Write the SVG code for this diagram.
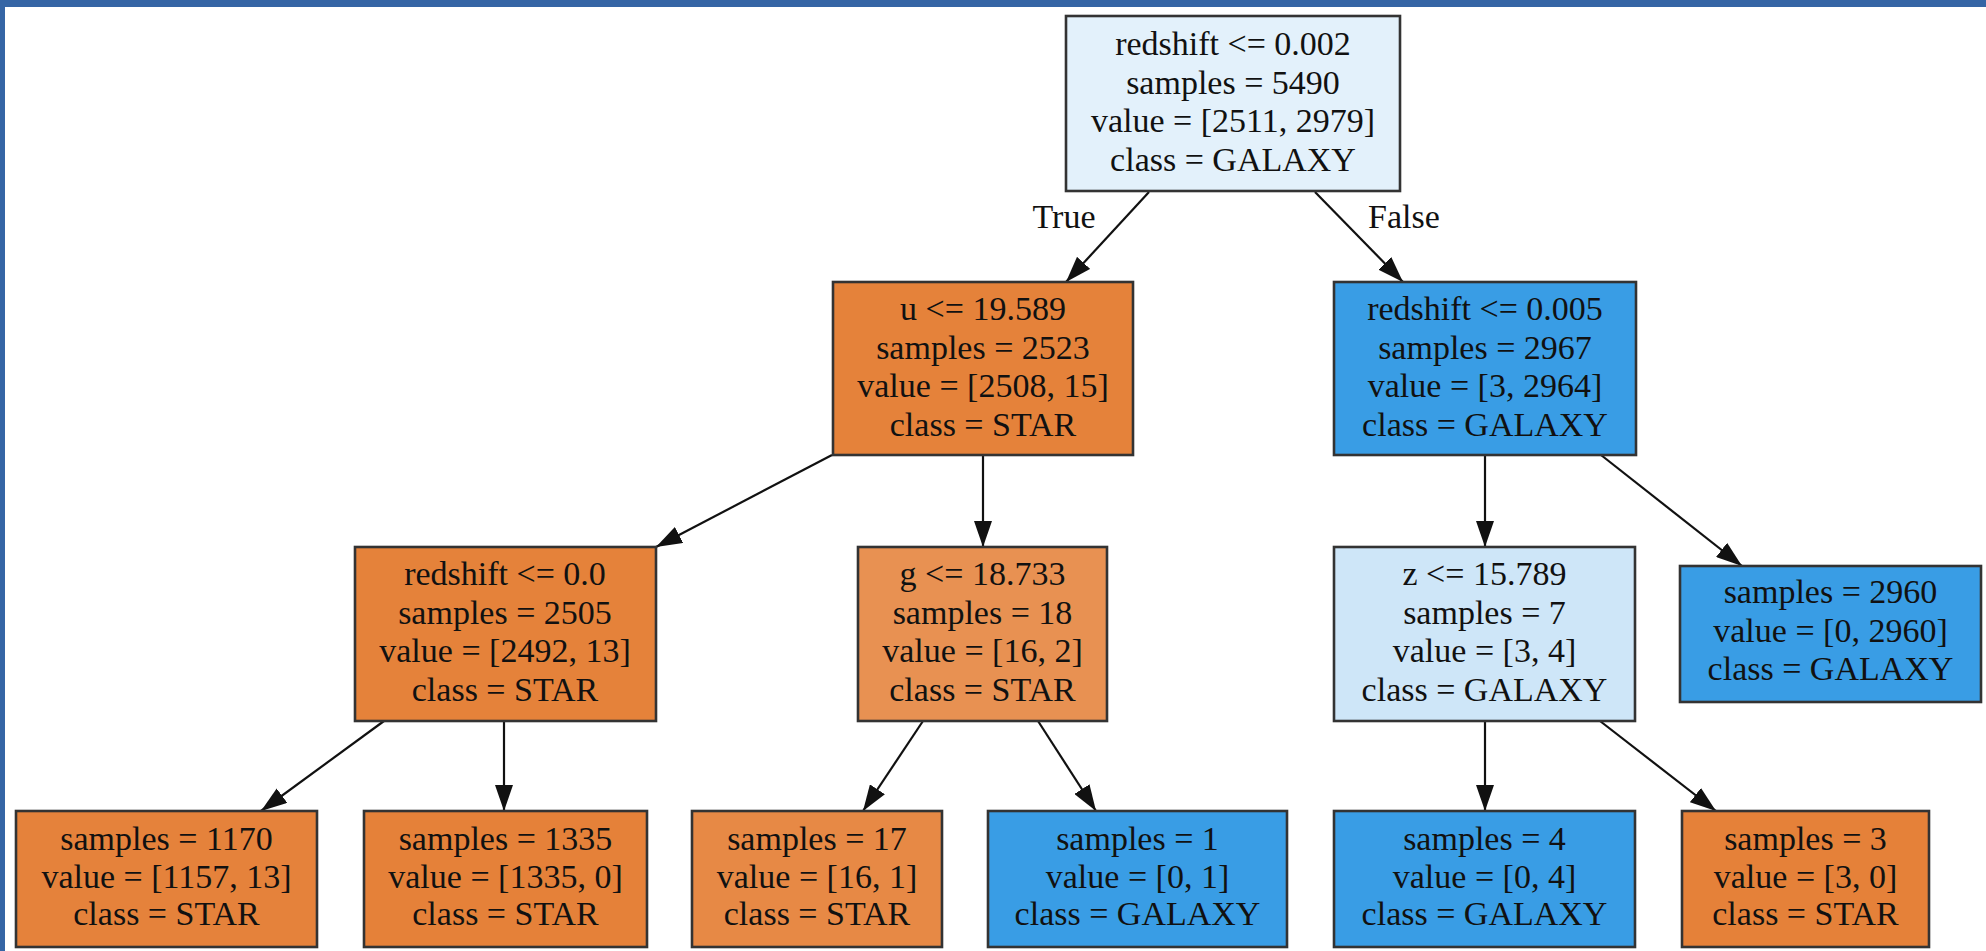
<svg xmlns="http://www.w3.org/2000/svg" width="1986" height="951" viewBox="0 0 1986 951">
<defs>
<style>
.box{stroke:#333;stroke-width:2.6}
.t{font-family:"Liberation Serif","Times New Roman",serif;font-size:34px;fill:#111;text-anchor:middle}
.e{stroke:#111;stroke-width:2.2;fill:none;marker-end:url(#ah)}
</style>
<marker id="ah" markerUnits="userSpaceOnUse" markerWidth="26" markerHeight="18" refX="26" refY="9" orient="auto">
<path d="M0,0 L26,9 L0,18 z" fill="#111"/>
</marker>
</defs>
<rect x="0" y="0" width="1986" height="951" fill="#fff"/>
<rect x="0" y="0" width="1986" height="7" fill="#3565a5"/>
<rect x="0" y="0" width="5" height="951" fill="#3565a5"/>

<g id="edges">
<line class="e" x1="1149" y1="192" x2="1066" y2="282"/>
<line class="e" x1="1315" y1="192" x2="1403" y2="282"/>
<line class="e" x1="832" y1="455" x2="656" y2="547"/>
<line class="e" x1="983" y1="455" x2="983" y2="547"/>
<line class="e" x1="384" y1="721" x2="261" y2="811"/>
<line class="e" x1="504" y1="721" x2="504" y2="811"/>
<line class="e" x1="923" y1="721" x2="863" y2="811"/>
<line class="e" x1="1038" y1="721" x2="1096" y2="811"/>
<line class="e" x1="1485" y1="455" x2="1485" y2="547"/>
<line class="e" x1="1601" y1="455" x2="1742" y2="566"/>
<line class="e" x1="1485" y1="721" x2="1485" y2="811"/>
<line class="e" x1="1600" y1="721" x2="1716" y2="811"/>
<text class="t" x="1064" y="228">True</text>
<text class="t" x="1404" y="228">False</text>
</g>

<g id="n0">
<rect class="box" x="1066" y="16" width="334" height="175" fill="#e3f1fb"/>
<text class="t" x="1233" y="55">redshift &lt;= 0.002</text>
<text class="t" x="1233" y="93.5">samples = 5490</text>
<text class="t" x="1233" y="132">value = [2511, 2979]</text>
<text class="t" x="1233" y="170.5">class = GALAXY</text>
</g>

<g id="n1">
<rect class="box" x="833" y="282" width="300" height="173" fill="#e5823a"/>
<text class="t" x="983" y="320">u &lt;= 19.589</text>
<text class="t" x="983" y="358.5">samples = 2523</text>
<text class="t" x="983" y="397">value = [2508, 15]</text>
<text class="t" x="983" y="435.5">class = STAR</text>
</g>

<g id="n2">
<rect class="box" x="1334" y="282" width="302" height="173" fill="#399de5"/>
<text class="t" x="1485" y="320">redshift &lt;= 0.005</text>
<text class="t" x="1485" y="358.5">samples = 2967</text>
<text class="t" x="1485" y="397">value = [3, 2964]</text>
<text class="t" x="1485" y="435.5">class = GALAXY</text>
</g>

<g id="n3">
<rect class="box" x="355" y="547" width="301" height="174" fill="#e5823a"/>
<text class="t" x="505" y="585">redshift &lt;= 0.0</text>
<text class="t" x="505" y="623.5">samples = 2505</text>
<text class="t" x="505" y="662">value = [2492, 13]</text>
<text class="t" x="505" y="700.5">class = STAR</text>
</g>

<g id="n4">
<rect class="box" x="858" y="547" width="249" height="174" fill="#e89152"/>
<text class="t" x="982.5" y="585">g &lt;= 18.733</text>
<text class="t" x="982.5" y="623.5">samples = 18</text>
<text class="t" x="982.5" y="662">value = [16, 2]</text>
<text class="t" x="982.5" y="700.5">class = STAR</text>
</g>

<g id="n5">
<rect class="box" x="1334" y="547" width="301" height="174" fill="#cee6f8"/>
<text class="t" x="1484.5" y="585">z &lt;= 15.789</text>
<text class="t" x="1484.5" y="623.5">samples = 7</text>
<text class="t" x="1484.5" y="662">value = [3, 4]</text>
<text class="t" x="1484.5" y="700.5">class = GALAXY</text>
</g>

<g id="n6">
<rect class="box" x="1680" y="566" width="301" height="136" fill="#399de5"/>
<text class="t" x="1830.5" y="603">samples = 2960</text>
<text class="t" x="1830.5" y="642">value = [0, 2960]</text>
<text class="t" x="1830.5" y="680">class = GALAXY</text>
</g>

<g id="n7">
<rect class="box" x="16" y="811" width="301" height="136" fill="#e5823b"/>
<text class="t" x="166.5" y="850">samples = 1170</text>
<text class="t" x="166.5" y="887.5">value = [1157, 13]</text>
<text class="t" x="166.5" y="925">class = STAR</text>
</g>

<g id="n8">
<rect class="box" x="364" y="811" width="283" height="136" fill="#e58139"/>
<text class="t" x="505.5" y="850">samples = 1335</text>
<text class="t" x="505.5" y="887.5">value = [1335, 0]</text>
<text class="t" x="505.5" y="925">class = STAR</text>
</g>

<g id="n9">
<rect class="box" x="692" y="811" width="250" height="136" fill="#e78945"/>
<text class="t" x="817" y="850">samples = 17</text>
<text class="t" x="817" y="887.5">value = [16, 1]</text>
<text class="t" x="817" y="925">class = STAR</text>
</g>

<g id="n10">
<rect class="box" x="988" y="811" width="299" height="136" fill="#399de5"/>
<text class="t" x="1137.5" y="850">samples = 1</text>
<text class="t" x="1137.5" y="887.5">value = [0, 1]</text>
<text class="t" x="1137.5" y="925">class = GALAXY</text>
</g>

<g id="n11">
<rect class="box" x="1334" y="811" width="301" height="136" fill="#399de5"/>
<text class="t" x="1484.5" y="850">samples = 4</text>
<text class="t" x="1484.5" y="887.5">value = [0, 4]</text>
<text class="t" x="1484.5" y="925">class = GALAXY</text>
</g>

<g id="n12">
<rect class="box" x="1682" y="811" width="247" height="136" fill="#e58139"/>
<text class="t" x="1805.5" y="850">samples = 3</text>
<text class="t" x="1805.5" y="887.5">value = [3, 0]</text>
<text class="t" x="1805.5" y="925">class = STAR</text>
</g>
</svg>
